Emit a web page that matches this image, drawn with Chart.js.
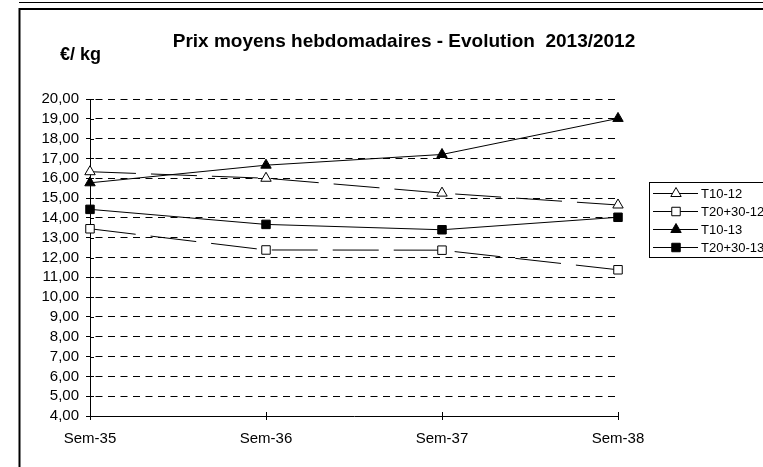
<!DOCTYPE html>
<html>
<head>
<meta charset="utf-8">
<script src="https://cdn.jsdelivr.net/npm/chart.js@4.4.1/dist/chart.umd.min.js"></script>
<style>
html,body{margin:0;padding:0;background:#fff;}
#wrap{position:relative;width:763px;height:467px;}
</style>
</head>
<body>
<div id="wrap"><canvas id="c" width="763" height="467"></canvas></div>
<script>
const categories = ['Sem-35', 'Sem-36', 'Sem-37', 'Sem-38'];
const seriesNames = ['T10-12', 'T20+30-12', 'T10-13', 'T20+30-13'];
const t10_12 = [16.33, 16.00, 15.25, 14.65];
const t2030_12 = [13.45, 12.38, 12.37, 11.38];
const t10_13 = [15.77, 16.66, 17.20, 19.02];
const t2030_13 = [14.43, 13.67, 13.40, 14.03];
const yMin = 4, yMax = 20, yStep = 1;
const chartTitle = 'Prix moyens hebdomadaires - Evolution  2013/2012';
const unitLabel = '€/ kg';

const FONT = '"Liberation Sans", Arial, sans-serif';

const framePlugin = {
  id: 'frame',
  beforeDraw(chart) {
    const ctx = chart.ctx;
    ctx.save();
    ctx.fillStyle = '#fff';
    ctx.fillRect(0, 0, chart.width, chart.height);
    ctx.strokeStyle = '#000';
    ctx.lineWidth = 1;
    ctx.beginPath();
    ctx.moveTo(19, 2.5); ctx.lineTo(chart.width, 2.5);
    ctx.stroke();
    ctx.lineWidth = 2;
    ctx.beginPath();
    ctx.moveTo(chart.width, 9); ctx.lineTo(19.5, 9); ctx.lineTo(19.5, chart.height);
    ctx.stroke();
    ctx.restore();
  },
  afterDraw(chart) {
    const ctx = chart.ctx;
    const xs = chart.scales.x, ys = chart.scales.y;
    const ca = chart.chartArea;
    ctx.save();
    ctx.strokeStyle = '#000';
    ctx.lineWidth = 1;
    ctx.beginPath();
    ys.ticks.forEach((t, i) => {
      const y = Math.round(ys.getPixelForTick(i)) + 0.5;
      ctx.moveTo(ca.left, y); ctx.lineTo(ca.left + 4, y);
    });
    xs.ticks.forEach((t, i) => {
      const x = Math.round(xs.getPixelForTick(i)) + 0.5;
      ctx.moveTo(x, ca.bottom); ctx.lineTo(x, ca.bottom - 4);
    });
    ctx.stroke();
    // title and unit
    ctx.fillStyle = '#000';
    ctx.textBaseline = 'alphabetic';
    ctx.textAlign = 'center';
    ctx.font = 'bold 19px ' + FONT;
    ctx.fillText(chartTitle, 404, 47);
    ctx.textAlign = 'left';
    ctx.font = 'bold 18px ' + FONT;
    ctx.fillText(unitLabel, 60, 60);
    // legend
    const lx = 649.5, ly = 182.5, lw = 120, lh = 75;
    ctx.lineWidth = 1;
    ctx.strokeRect(lx, ly, lw, lh);
    ctx.font = '13px ' + FONT;
    ctx.textBaseline = 'middle';
    chart.data.datasets.forEach((ds, i) => {
      const ry = Math.round(193 + i * 18) + 0.5;
      ctx.save();
      ctx.strokeStyle = ds.borderColor;
      ctx.lineWidth = 1;
      ctx.setLineDash(ds.borderDash || []);
      ctx.beginPath();
      ctx.moveTo(653, ry); ctx.lineTo(698, ry);
      ctx.stroke();
      ctx.restore();
      ctx.save();
      ctx.fillStyle = ds.pointBackgroundColor;
      ctx.strokeStyle = ds.pointBorderColor;
      ctx.lineWidth = 1;
      Chart.helpers.drawPoint(ctx, {pointStyle: ds.pointStyle, radius: ds.pointRadius, borderWidth: 1, rotation: 0}, 676, ry);
      ctx.restore();
      ctx.fillStyle = '#000';
      ctx.textAlign = 'left';
      ctx.fillText(ds.label, 701, ry + 1);
    });
    ctx.restore();
  }
};

function mkDs(label, data, style, filled, dashed, r) {
  return {
    label, data,
    borderColor: '#000',
    borderWidth: 1,
    borderDash: dashed ? [46, 15] : [],
    pointStyle: style,
    pointRadius: r,
    pointBorderWidth: 1,
    pointBorderColor: '#000',
    pointBackgroundColor: filled ? '#000' : '#fff',
    tension: 0,
    fill: false
  };
}

new Chart(document.getElementById('c'), {
  type: 'line',
  data: {
    labels: categories,
    datasets: [
      mkDs(seriesNames[0], t10_12, 'triangle', false, true, 6),
      mkDs(seriesNames[1], t2030_12, 'rect', false, true, 6),
      mkDs(seriesNames[2], t10_13, 'triangle', true, false, 6),
      mkDs(seriesNames[3], t2030_13, 'rect', true, false, 6)
    ]
  },
  options: {
    responsive: false,
    animation: false,
    events: [],
    layout: { padding: { left: 0, right: 145, top: 99, bottom: 0 } },
    plugins: { legend: { display: false }, tooltip: { enabled: false }, title: { display: false } },
    scales: {
      x: {
        offset: false,
        grid: { drawOnChartArea: false, drawTicks: true, tickLength: 4, color: '#000', lineWidth: 1 },
        border: { display: true, color: '#000', width: 1 },
        ticks: { color: '#000', font: { family: FONT, size: 15 }, padding: 10, maxRotation: 0, autoSkip: false },
        afterFit(s) { s.height = 51; }
      },
      y: {
        min: yMin, max: yMax,
        grid: { drawOnChartArea: true, drawTicks: true, tickLength: 4, color: '#000', lineWidth: 1 },
        border: { display: true, color: '#000', width: 1, dash: [7, 5.5], dashOffset: 8 },
        ticks: {
          stepSize: yStep, autoSkip: false, color: '#000', font: { family: FONT, size: 15 }, padding: 7,
          callback: v => Number(v).toFixed(2).replace('.', ',')
        },
        afterFit(s) { s.width = 90; }
      }
    }
  },
  plugins: [framePlugin]
});
</script>
</body>
</html>
